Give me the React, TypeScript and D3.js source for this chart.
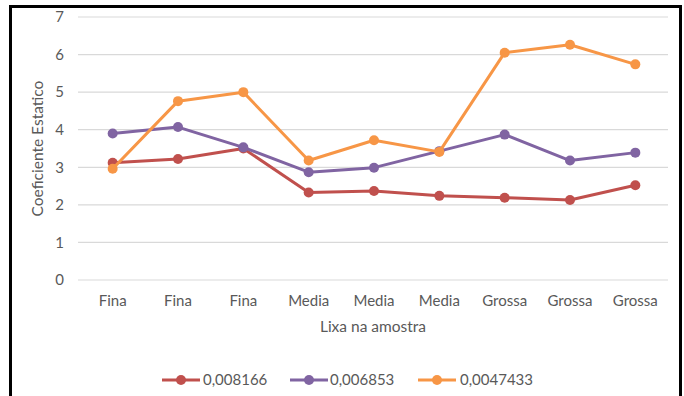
import React from "react";
import * as d3 from "d3";

// Sample categories along the x axis
const categories = ["Fina", "Fina", "Fina", "Media", "Media", "Media", "Grossa", "Grossa", "Grossa"];

// Static coefficient per series
const series008166 = [3.12, 3.22, 3.5, 2.33, 2.37, 2.24, 2.19, 2.13, 2.52];
const series006853 = [3.9, 4.07, 3.53, 2.87, 2.99, 3.43, 3.87, 3.18, 3.39];
const series0047433 = [2.96, 4.76, 5.0, 3.18, 3.72, 3.41, 6.05, 6.26, 5.74];

const seriesNames = ["0,008166", "0,006853", "0,0047433"];
const seriesColors = ["#C0504D", "#8064A2", "#F79646"];
const yTicks = [0, 1, 2, 3, 4, 5, 6, 7];

const W = 684;
const H = 396;
const plot = { left: 80, right: 668, top: 17, bottom: 280 };
const font = "Lato, 'Open Sans', sans-serif";
const textColor = "#595959";

export default function App() {
  const allSeries = [series008166, series006853, series0047433];
  const x = d3
    .scaleBand<number>()
    .domain(d3.range(categories.length))
    .range([plot.left, plot.right]);
  const y = d3.scaleLinear().domain([0, 7]).range([plot.bottom, plot.top]);
  const cx = (i: number) => (x(i) as number) + x.bandwidth() / 2;
  const line = d3
    .line<number>()
    .x((_, i) => cx(i))
    .y((d) => y(d));

  const legendItems = [
    { lineStart: 162, textX: 203 },
    { lineStart: 290, textX: 330 },
    { lineStart: 418, textX: 460 },
  ];
  const legendY = 380;

  return (
    <svg
      width={W}
      height={H}
      style={{ position: "absolute", left: 0, top: 0, background: "#fff" }}
    >
      <rect x={0} y={0} width={W} height={H} fill="#fff" />
      {/* gridlines */}
      {yTicks.map((t) => (
        <line
          key={t}
          x1={plot.left - 2}
          x2={plot.right}
          y1={y(t)}
          y2={y(t)}
          stroke="#D9D9D9"
          strokeWidth={1.2}
        />
      ))}
      {/* y tick labels */}
      {yTicks.map((t) => (
        <text
          key={"yl" + t}
          x={64}
          y={y(t)}
          dy="0.35em"
          textAnchor="end"
          fontFamily={font}
          fontSize={15}
          fill={textColor}
        >
          {t}
        </text>
      ))}
      {/* x tick labels */}
      {categories.map((c, i) => (
        <text
          key={"xl" + i}
          x={cx(i)}
          y={301}
          dy="0.35em"
          textAnchor="middle"
          fontFamily={font}
          fontSize={15}
          fill={textColor}
        >
          {c}
        </text>
      ))}
      {/* axis titles */}
      <text
        x={(plot.left + plot.right) / 2 - 1}
        y={327}
        dy="0.35em"
        textAnchor="middle"
        fontFamily={font}
        fontSize={15.5}
        fill={textColor}
      >
        Lixa na amostra
      </text>
      <text
        transform={`translate(38,${(plot.top + plot.bottom) / 2}) rotate(-90)`}
        dy="0.35em"
        textAnchor="middle"
        fontFamily={font}
        fontSize={15.5}
        fill={textColor}
      >
        Coeficiente Estatico
      </text>
      {/* series */}
      {allSeries.map((s, si) => (
        <g key={"s" + si}>
          <path
            d={line(s) || ""}
            fill="none"
            stroke={seriesColors[si]}
            strokeWidth={3}
            strokeLinejoin="round"
          />
          {s.map((v, i) => (
            <circle key={i} cx={cx(i)} cy={y(v)} r={5} fill={seriesColors[si]} />
          ))}
        </g>
      ))}
      {/* legend */}
      {legendItems.map((it, si) => (
        <g key={"lg" + si}>
          <line
            x1={it.lineStart}
            x2={it.lineStart + 38}
            y1={legendY}
            y2={legendY}
            stroke={seriesColors[si]}
            strokeWidth={3}
          />
          <circle cx={it.lineStart + 19} cy={legendY} r={5} fill={seriesColors[si]} />
          <text
            x={it.textX}
            y={legendY}
            dy="0.35em"
            fontFamily={font}
            fontSize={15}
            fill={textColor}
          >
            {seriesNames[si]}
          </text>
        </g>
      ))}
      {/* frame */}
      <path
        d={`M10.5,${H + 5} V6.5 H680.5 V${H + 5}`}
        fill="none"
        stroke="#000"
        strokeWidth={3}
      />
    </svg>
  );
}
